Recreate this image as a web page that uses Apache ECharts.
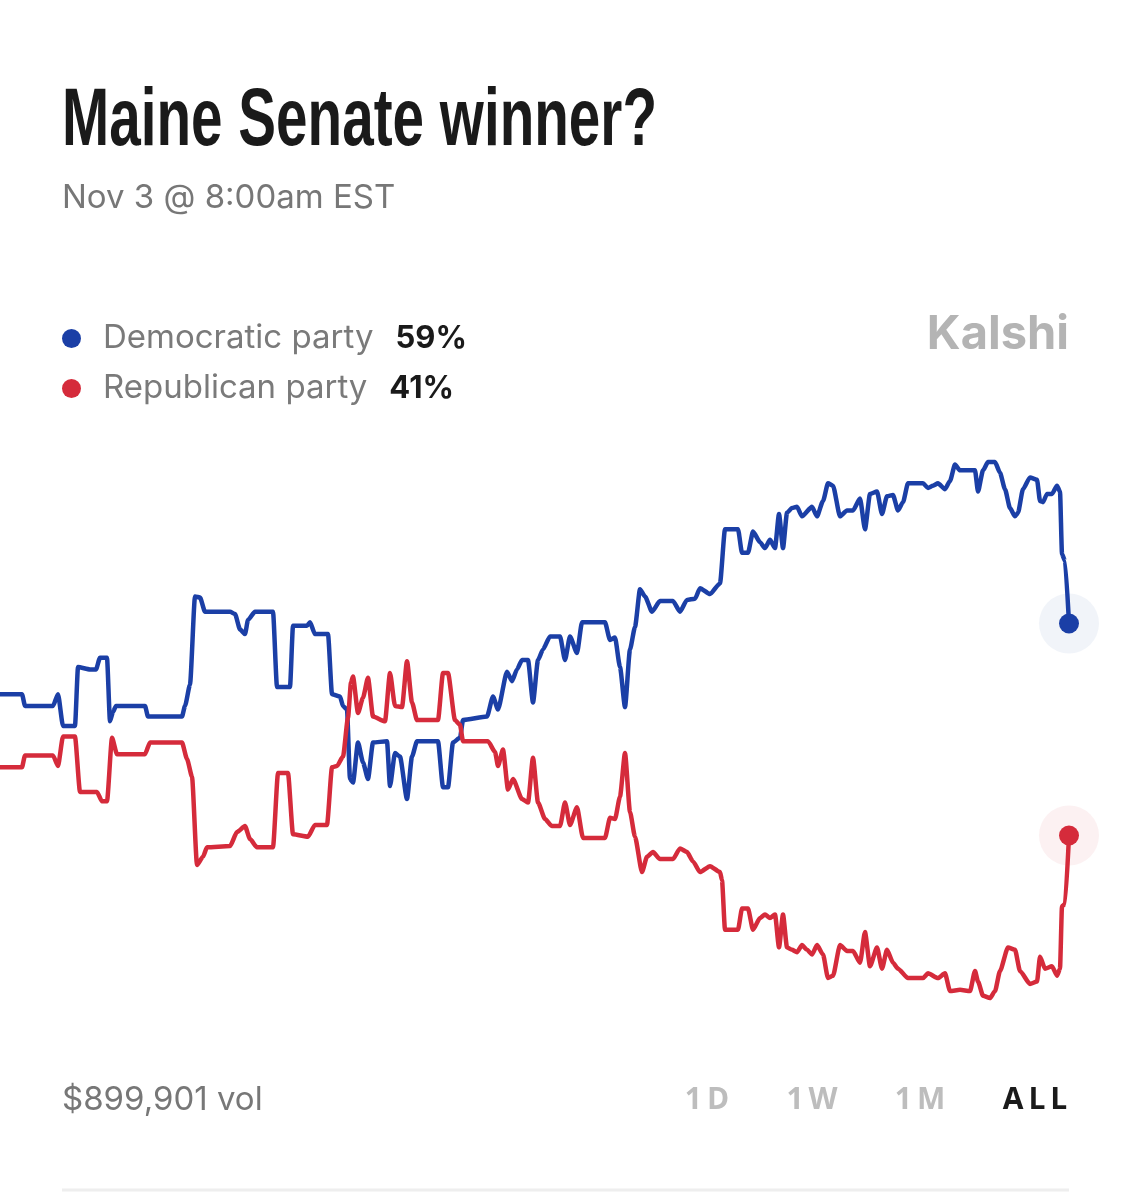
<!DOCTYPE html>
<html>
<head>
<meta charset="utf-8">
<title>Maine Senate winner?</title>
<script src="https://cdn.jsdelivr.net/npm/echarts@6/dist/echarts.min.js"></script>
<style>
  html, body { margin: 0; padding: 0; background: #fff; }
  #main { width: 1131px; height: 1200px; }
</style>
</head>
<body>
<div id="main"></div>
<script>
// timeline position of each sample (same scale for both outcomes)
var demTime = [0, 22, 25, 53, 58, 63, 75, 78, 90, 96, 100, 107, 110, 113, 116, 145, 148, 182, 185, 190,
  195, 200, 205, 230, 235, 240, 245, 248, 255, 273, 277, 290, 293, 307, 310, 315, 328, 332, 340, 343,
  347, 350, 353, 358, 363, 368, 373, 387, 390, 395, 400, 407, 412, 417, 438, 443, 448, 453, 460, 463,
  487, 493, 498, 507, 512, 517, 522, 528, 533, 538, 543, 550, 560, 565, 570, 577, 582, 605, 610, 615,
  620, 625, 630, 635, 640, 645, 652, 660, 673, 680, 687, 695, 700, 710, 720, 725, 738, 742, 748, 753,
  760, 765, 770, 775, 779, 783, 787, 792, 797, 802, 812, 817, 823, 828, 833, 840, 847, 853, 860, 865,
  870, 877, 882, 887, 893, 898, 903, 908, 923, 928, 933, 938, 945, 950, 955, 960, 975, 978, 983, 988,
  995, 1000, 1005, 1010, 1015, 1018, 1023, 1030, 1037, 1040, 1043, 1047, 1052, 1057, 1060, 1062, 1065, 1069];
var demValues = [53.0, 53.0, 52.0, 52.0, 53.0, 50.3, 50.3, 55.3, 55.1, 55.1, 56.1, 56.1, 50.7, 51.5, 52.0, 52.0, 51.1, 51.1, 52.0, 53.8,
  61.3, 61.2, 60.0, 60.0, 59.8, 58.5, 58.1, 59.3, 60.0, 60.0, 53.6, 53.6, 58.8, 58.8, 59.1, 58.1, 58.1, 53.0, 52.8, 52.0,
  51.7, 45.8, 45.5, 48.9, 47.2, 45.8, 48.9, 49.0, 45.2, 48.0, 47.7, 44.1, 47.7, 49.0, 49.0, 45.1, 45.1, 48.9, 49.3, 50.8,
  51.1, 52.8, 51.7, 54.9, 54.1, 55.1, 55.9, 55.9, 52.3, 55.9, 56.8, 57.9, 57.9, 55.9, 57.9, 56.5, 59.1, 59.1, 57.6, 57.8,
  55.3, 51.9, 56.8, 58.7, 61.9, 61.3, 60.0, 60.9, 60.9, 60.0, 61.0, 61.1, 62.0, 61.5, 62.4, 67.0, 67.0, 65.0, 65.0, 66.8,
  65.9, 65.4, 66.1, 65.4, 68.3, 65.4, 68.4, 68.8, 68.9, 68.1, 68.9, 68.1, 69.4, 70.9, 70.7, 68.1, 68.6, 68.6, 69.6, 67.0,
  70.0, 70.2, 68.3, 69.8, 69.9, 68.6, 69.3, 70.9, 70.9, 70.5, 70.7, 70.9, 70.4, 71.1, 72.5, 72.0, 72.0, 70.2, 72.0, 72.7,
  72.7, 71.8, 70.4, 68.8, 68.1, 68.4, 70.4, 71.4, 71.2, 69.4, 69.3, 70.0, 70.0, 70.7, 70.2, 64.9, 64.3, 59.0];

var repTime = [0, 22, 25, 53, 58, 63, 75, 80, 97, 102, 107, 112, 117, 145, 150, 182, 187, 192, 197, 203,
  207, 230, 237, 245, 250, 257, 273, 278, 288, 293, 308, 315, 327, 332, 337, 343, 348, 351, 353, 358,
  363, 368, 373, 385, 390, 395, 402, 407, 412, 417, 438, 443, 448, 455, 460, 463, 488, 495, 498, 503,
  508, 513, 522, 528, 533, 538, 545, 552, 560, 565, 570, 577, 583, 605, 610, 615, 620, 625, 630, 635,
  642, 647, 653, 660, 673, 680, 687, 693, 700, 710, 720, 722, 725, 738, 742, 748, 753, 760, 765, 770,
  775, 779, 783, 787, 792, 797, 802, 807, 812, 817, 823, 828, 833, 840, 847, 853, 860, 865, 870, 877,
  882, 887, 893, 898, 908, 923, 928, 938, 945, 950, 960, 970, 975, 978, 983, 990, 995, 1000, 1008, 1015,
  1020, 1030, 1037, 1040, 1045, 1052, 1057, 1060, 1062, 1065, 1069];
var repValues = [46.8, 46.8, 47.8, 47.8, 46.9, 49.4, 49.4, 44.7, 44.7, 43.9, 43.9, 49.3, 47.9, 47.9, 48.9, 48.9, 47.5, 46.0, 38.5, 39.2,
  40.0, 40.1, 41.3, 41.8, 40.7, 40.0, 40.0, 46.3, 46.3, 41.1, 40.9, 41.9, 41.9, 46.8, 46.9, 47.7, 51.0, 54.0, 54.5, 51.4,
  52.7, 54.4, 51.1, 50.7, 54.8, 52.0, 51.9, 55.8, 52.3, 50.8, 50.8, 54.8, 54.8, 50.8, 50.4, 49.0, 49.0, 48.1, 46.9, 48.3,
  44.9, 45.8, 44.1, 43.8, 47.6, 43.8, 42.4, 41.8, 41.8, 43.8, 41.9, 43.4, 40.8, 40.8, 42.5, 42.4, 44.3, 48.0, 43.0, 40.9,
  37.9, 39.2, 39.6, 39.0, 39.0, 39.9, 39.6, 38.8, 37.9, 38.4, 37.9, 37.2, 33.0, 33.0, 34.8, 34.8, 33.0, 34.0, 34.3, 34.0,
  34.3, 31.5, 34.3, 31.5, 31.3, 31.1, 31.7, 31.3, 30.9, 31.7, 30.9, 28.9, 29.1, 31.7, 31.2, 31.2, 30.2, 32.8, 29.9, 31.5,
  29.7, 31.3, 30.2, 29.7, 28.9, 28.9, 29.3, 28.9, 29.3, 27.8, 27.9, 27.8, 29.5, 28.6, 27.4, 27.2, 27.8, 29.5, 31.5, 31.3,
  29.5, 28.4, 28.6, 30.7, 29.7, 29.9, 29.1, 29.7, 35.0, 35.2, 41.0];

var names = ['Democratic party', 'Republican party'];
var colors = ['#1b3fa6', '#d52b3b'];
var ranges = ['1D', '1W', '1M', 'ALL'];

function pairs(ts, vs) {
    var out = [];
    for (var i = 0; i < ts.length; i++) out.push([ts[i], vs[i]]);
    return out;
}
function last(ts, vs) {
    return [ts[ts.length - 1], vs[vs.length - 1]];
}
var latest = {};
latest[names[0]] = Math.round(demValues[demValues.length - 1]);
latest[names[1]] = Math.round(repValues[repValues.length - 1]);

var sans = 'Inter, "Liberation Sans", sans-serif';
var heavy = '"Liberation Sans", Arial, sans-serif';

// the headline uses a condensed face; squeeze a normal bold one to the same width
var measure = document.createElement('canvas').getContext('2d');
function squeeze(text, font, width) {
    measure.font = font;
    return width / measure.measureText(text).width;
}
var titleText = 'Maine Senate winner?';
var titleFont = 'bold 82px ' + heavy;

var graphics = [
    {type: 'text', x: 62, y: 163, scaleX: squeeze(titleText, titleFont, 595),
        style: {text: titleText, font: titleFont, fill: '#1a1a1a', verticalAlign: 'bottom'}},
    {type: 'text', x: 62, y: 198, style: {text: 'Nov 3 @ 8:00am EST', font: '33px ' + sans, fill: '#777', verticalAlign: 'middle'}},
    {type: 'text', right: 62, top: 311, style: {text: 'Kalshi', font: 'bold 47px ' + sans, fill: '#b4b4b4'}},
    {type: 'text', x: 62, y: 1100, style: {text: '$899,901 vol', font: '33px ' + sans, fill: '#777', verticalAlign: 'middle'}},
    {type: 'line', shape: {x1: 62, y1: 1190, x2: 1069, y2: 1190}, style: {stroke: '#eeeeee', lineWidth: 3}}
];
var rangeX = [707, 812, 920, 1035];
for (var r = 0; r < ranges.length; r++) {
    graphics.push({type: 'text', x: rangeX[r], y: 1100, style: {
        text: ranges[r].split('').join('\u2009'), font: 'bold 30px "Open Sans", ' + heavy,
        fill: ranges[r] === 'ALL' ? '#1a1a1a' : '#bdbdbd', align: 'center', verticalAlign: 'middle'}});
}

var option = {
    animation: false,
    color: colors,
    grid: {left: 0, right: 62, top: 435, height: 589},
    legend: {
        data: names, orient: 'vertical', left: 62, top: 322, itemGap: 17, padding: 0,
        icon: 'circle', itemWidth: 19, itemHeight: 19,
        formatter: function (name) {
            return '{n|' + name + '}{v|' + latest[name] + '%}';
        },
        textStyle: {
            padding: [0, 0, 0, 17],
            rich: {
                n: {fontFamily: sans, fontSize: 33, color: '#7a7a7a', padding: [0, 22, 0, 0]},
                v: {fontFamily: sans, fontSize: 31, fontWeight: 'bold', color: '#1a1a1a'}
            }
        }
    },
    xAxis: {type: 'value', min: 0, max: 1069, show: false},
    yAxis: {type: 'value', min: 25, max: 75, show: false},
    graphic: graphics,
    series: [
        {name: names[0], type: 'line', data: pairs(demTime, demValues), showSymbol: false,
            smooth: 0.2, smoothMonotone: 'x',
            lineStyle: {width: 4.5, join: 'round', cap: 'round'}, z: 3},
        {name: names[1], type: 'line', data: pairs(repTime, repValues), showSymbol: false,
            smooth: 0.2, smoothMonotone: 'x',
            lineStyle: {width: 4.5, join: 'round', cap: 'round'}, z: 3},
        {type: 'scatter', data: [last(demTime, demValues)], symbolSize: 60, itemStyle: {color: '#eef1f8'}, z: 1, silent: true},
        {type: 'scatter', data: [last(repTime, repValues)], symbolSize: 60, itemStyle: {color: '#fbeeef'}, z: 1, silent: true},
        {type: 'scatter', data: [last(demTime, demValues)], symbolSize: 20, itemStyle: {color: colors[0], opacity: 1}, z: 4},
        {type: 'scatter', data: [last(repTime, repValues)], symbolSize: 20, itemStyle: {color: colors[1], opacity: 1}, z: 4}
    ]
};
echarts.init(document.getElementById('main')).setOption(option);
</script>
</body>
</html>
